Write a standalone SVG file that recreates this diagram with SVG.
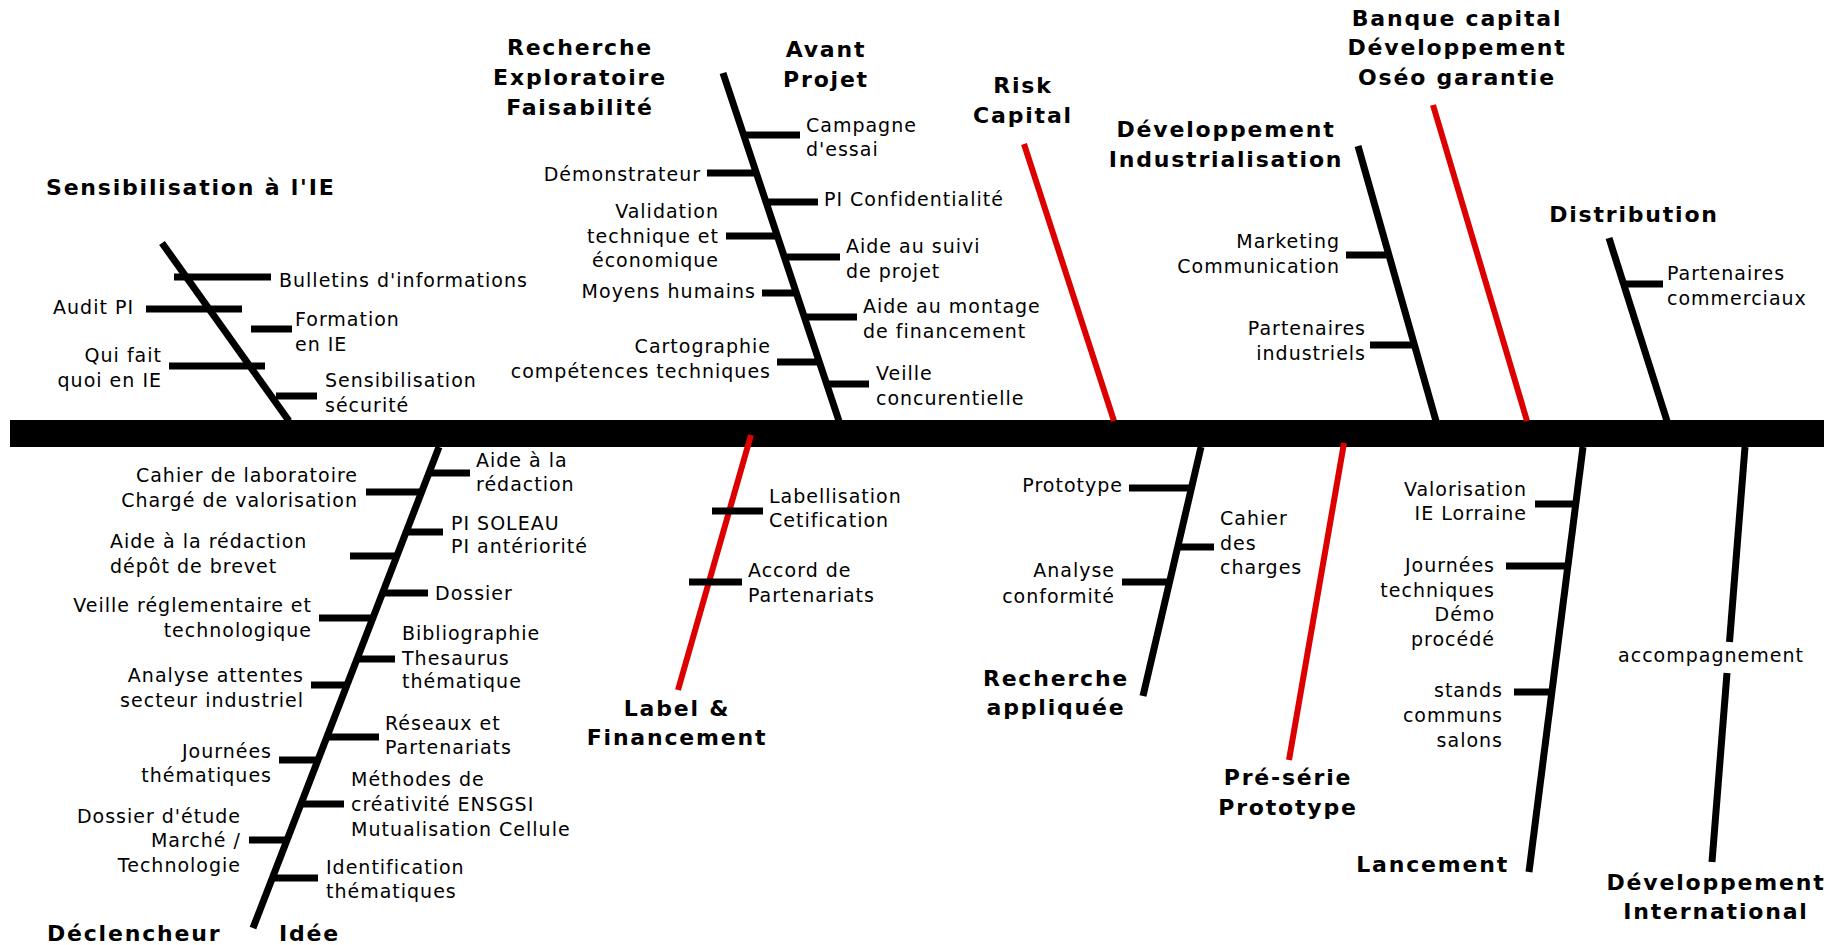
<svg xmlns="http://www.w3.org/2000/svg" width="1836" height="945" viewBox="0 0 1836 945">
<style>
.l{font-family:"DejaVu Sans","Liberation Sans",sans-serif;font-size:19px;letter-spacing:1px;fill:#000}
.e{text-anchor:end}
.t{font-family:"DejaVu Sans","Liberation Sans",sans-serif;font-size:22px;font-weight:bold;letter-spacing:1.8px;fill:#000;text-anchor:middle}
.br{stroke:#000;stroke-width:7;fill:none}
.rd{stroke:#dd0000;stroke-width:6;fill:none}
.bar{stroke:#000;stroke-width:7}
</style>
<rect width="1836" height="945" fill="#fff"/>
<g id="connectors">
<rect x="10" y="420" width="1814" height="27" fill="#000"/>
<line class="br" x1="162" y1="243" x2="289" y2="421"/>
<line class="br" x1="723" y1="73" x2="839" y2="421"/>
<line class="rd" x1="1024" y1="144" x2="1114" y2="421"/>
<line class="br" x1="1358" y1="146" x2="1436" y2="421"/>
<line class="rd" x1="1433" y1="105" x2="1527" y2="421"/>
<line class="br" x1="1609" y1="238" x2="1667" y2="421"/>
<line class="br" x1="439" y1="447" x2="253" y2="928"/>
<line class="rd" x1="751" y1="435" x2="678" y2="690"/>
<line class="br" x1="1201" y1="447" x2="1143" y2="696"/>
<line class="rd" x1="1344" y1="443" x2="1289" y2="760"/>
<line class="br" x1="1583" y1="447" x2="1529" y2="872"/>
<line class="br" x1="1745" y1="447" x2="1729.5" y2="642"/>
<line class="br" x1="1727" y1="673" x2="1712" y2="862"/>
</g>
<g id="sensibilisation">
<text class="t" x="46" y="195" style="text-anchor:start">Sensibilisation à l'IE</text>
<line class="bar" x1="174" y1="277" x2="271" y2="277"/>
<line class="bar" x1="146" y1="309" x2="242" y2="309"/>
<line class="bar" x1="251" y1="329" x2="292" y2="329"/>
<line class="bar" x1="169" y1="366" x2="265" y2="366"/>
<line class="bar" x1="276" y1="396" x2="317" y2="396"/>
<text class="l" x="279" y="287">Bulletins d'informations</text>
<text class="l e" x="134" y="314">Audit PI</text>
<text class="l" x="295" y="326">Formation<tspan x="295" y="351">en IE</tspan></text>
<text class="l e" x="162" y="362">Qui fait<tspan x="162" y="387">quoi en IE</tspan></text>
<text class="l" x="325" y="387">Sensibilisation<tspan x="325" y="412">sécurité</tspan></text>
</g>
<g id="recherche-exploratoire">
<text class="t" x="580" y="55">Recherche<tspan x="580" y="85">Exploratoire</tspan><tspan x="580" y="115">Faisabilité</tspan></text>
<line class="bar" x1="707" y1="173" x2="756" y2="173"/>
<line class="bar" x1="726" y1="236" x2="777" y2="236"/>
<line class="bar" x1="762" y1="293" x2="796" y2="293"/>
<line class="bar" x1="777" y1="362" x2="819" y2="362"/>
<text class="l e" x="701" y="181">Démonstrateur</text>
<text class="l e" x="719" y="218">Validation<tspan x="719" y="243">technique et</tspan><tspan x="719" y="267">économique</tspan></text>
<text class="l e" x="756" y="298">Moyens humains</text>
<text class="l e" x="771" y="353">Cartographie<tspan x="771" y="378">compétences techniques</tspan></text>
</g>
<g id="avant-projet">
<text class="t" x="826" y="57">Avant<tspan x="826" y="87">Projet</tspan></text>
<line class="bar" x1="744" y1="135" x2="800" y2="135"/>
<line class="bar" x1="766" y1="202" x2="818" y2="202"/>
<line class="bar" x1="784" y1="257" x2="840" y2="257"/>
<line class="bar" x1="804" y1="317" x2="857" y2="317"/>
<line class="bar" x1="827" y1="384" x2="869" y2="384"/>
<text class="l" x="806" y="132">Campagne<tspan x="806" y="156">d'essai</tspan></text>
<text class="l" x="824" y="206">PI Confidentialité</text>
<text class="l" x="846" y="253">Aide au suivi<tspan x="846" y="278">de projet</tspan></text>
<text class="l" x="863" y="313">Aide au montage<tspan x="863" y="338">de financement</tspan></text>
<text class="l" x="876" y="380">Veille<tspan x="876" y="405">concurentielle</tspan></text>
</g>
<g id="risk-capital">
<text class="t" x="1023" y="93">Risk<tspan x="1023" y="123">Capital</tspan></text>
</g>
<g id="developpement-industrialisation">
<text class="t" x="1226" y="137">Développement<tspan x="1226" y="167">Industrialisation</tspan></text>
<line class="bar" x1="1346" y1="255" x2="1389" y2="255"/>
<line class="bar" x1="1370" y1="345" x2="1414" y2="345"/>
<text class="l e" x="1340" y="248">Marketing<tspan x="1340" y="273">Communication</tspan></text>
<text class="l e" x="1366" y="335">Partenaires<tspan x="1366" y="360">industriels</tspan></text>
</g>
<g id="banque-capital">
<text class="t" x="1457" y="26">Banque capital<tspan x="1457" y="55">Développement</tspan><tspan x="1457" y="85">Oséo garantie</tspan></text>
</g>
<g id="distribution">
<text class="t" x="1634" y="222">Distribution</text>
<line class="bar" x1="1624" y1="284" x2="1663" y2="284"/>
<text class="l" x="1667" y="280">Partenaires<tspan x="1667" y="305">commerciaux</tspan></text>
</g>
<g id="declencheur">
<text class="t" x="47" y="941" style="text-anchor:start">Déclencheur</text>
<line class="bar" x1="366" y1="492" x2="422" y2="492"/>
<line class="bar" x1="350" y1="556" x2="397" y2="556"/>
<line class="bar" x1="319" y1="618" x2="373" y2="618"/>
<line class="bar" x1="311" y1="685" x2="347" y2="685"/>
<line class="bar" x1="279" y1="760" x2="318" y2="760"/>
<line class="bar" x1="249" y1="840" x2="287" y2="840"/>
<text class="l e" x="358" y="482">Cahier de laboratoire<tspan x="358" y="507">Chargé de valorisation</tspan></text>
<text class="l" x="110" y="548">Aide à la rédaction<tspan x="110" y="573">dépôt de brevet</tspan></text>
<text class="l e" x="312" y="612">Veille réglementaire et<tspan x="312" y="637">technologique</tspan></text>
<text class="l e" x="304" y="682">Analyse attentes<tspan x="304" y="707">secteur industriel</tspan></text>
<text class="l e" x="272" y="758">Journées<tspan x="272" y="782">thématiques</tspan></text>
<text class="l e" x="241" y="823">Dossier d'étude<tspan x="241" y="847">Marché /</tspan><tspan x="241" y="872">Technologie</tspan></text>
</g>
<g id="idee">
<text class="t" x="279" y="941" style="text-anchor:start">Idée</text>
<line class="bar" x1="429" y1="473" x2="470" y2="473"/>
<line class="bar" x1="406" y1="532" x2="443" y2="532"/>
<line class="bar" x1="382" y1="593" x2="428" y2="593"/>
<line class="bar" x1="357" y1="659" x2="395" y2="659"/>
<line class="bar" x1="327" y1="737" x2="379" y2="737"/>
<line class="bar" x1="301" y1="804" x2="344" y2="804"/>
<line class="bar" x1="272" y1="878" x2="318" y2="878"/>
<text class="l" x="476" y="467">Aide à la<tspan x="476" y="491">rédaction</tspan></text>
<text class="l" x="451" y="530">PI SOLEAU<tspan x="451" y="553">PI antériorité</tspan></text>
<text class="l" x="435" y="600">Dossier</text>
<text class="l" x="402" y="640">Bibliographie<tspan x="402" y="665">Thesaurus</tspan><tspan x="402" y="688">thématique</tspan></text>
<text class="l" x="385" y="730">Réseaux et<tspan x="385" y="754">Partenariats</tspan></text>
<text class="l" x="351" y="786">Méthodes de<tspan x="351" y="811">créativité ENSGSI</tspan><tspan x="351" y="836">Mutualisation Cellule</tspan></text>
<text class="l" x="326" y="874">Identification<tspan x="326" y="898">thématiques</tspan></text>
</g>
<g id="label-financement">
<line class="bar" x1="712" y1="511" x2="763" y2="511"/>
<line class="bar" x1="689" y1="582" x2="742" y2="582"/>
<text class="l" x="769" y="503">Labellisation<tspan x="769" y="527">Cetification</tspan></text>
<text class="l" x="748" y="577">Accord de<tspan x="748" y="602">Partenariats</tspan></text>
<text class="t" x="677" y="716">Label &amp;<tspan x="677" y="745">Financement</tspan></text>
</g>
<g id="recherche-appliquee">
<line class="bar" x1="1129" y1="488" x2="1191" y2="488"/>
<line class="bar" x1="1178" y1="547" x2="1214" y2="547"/>
<line class="bar" x1="1122" y1="582" x2="1172" y2="582"/>
<text class="l e" x="1123" y="492">Prototype</text>
<text class="l" x="1220" y="525">Cahier<tspan x="1220" y="550">des</tspan><tspan x="1220" y="574">charges</tspan></text>
<text class="l e" x="1115" y="577">Analyse<tspan x="1115" y="603">conformité</tspan></text>
<text class="t" x="1056" y="686">Recherche<tspan x="1056" y="715">appliquée</tspan></text>
</g>
<g id="pre-serie">
<text class="t" x="1288" y="785">Pré-série<tspan x="1288" y="815">Prototype</tspan></text>
</g>
<g id="lancement">
<line class="bar" x1="1535" y1="504" x2="1576" y2="504"/>
<line class="bar" x1="1506" y1="566" x2="1568" y2="566"/>
<line class="bar" x1="1514" y1="692" x2="1552" y2="692"/>
<text class="l e" x="1527" y="496">Valorisation<tspan x="1527" y="520">IE Lorraine</tspan></text>
<text class="l e" x="1495" y="572">Journées<tspan x="1495" y="597">techniques</tspan><tspan x="1495" y="621">Démo</tspan><tspan x="1495" y="646">procédé</tspan></text>
<text class="l e" x="1503" y="697">stands<tspan x="1503" y="722">communs</tspan><tspan x="1503" y="747">salons</tspan></text>
<text class="t" x="1509" y="872" style="text-anchor:end">Lancement</text>
</g>
<g id="developpement-international">
<text class="l" x="1711" y="662" style="text-anchor:middle">accompagnement</text>
<text class="t" x="1716" y="890">Développement<tspan x="1716" y="919">International</tspan></text>
</g>
</svg>
